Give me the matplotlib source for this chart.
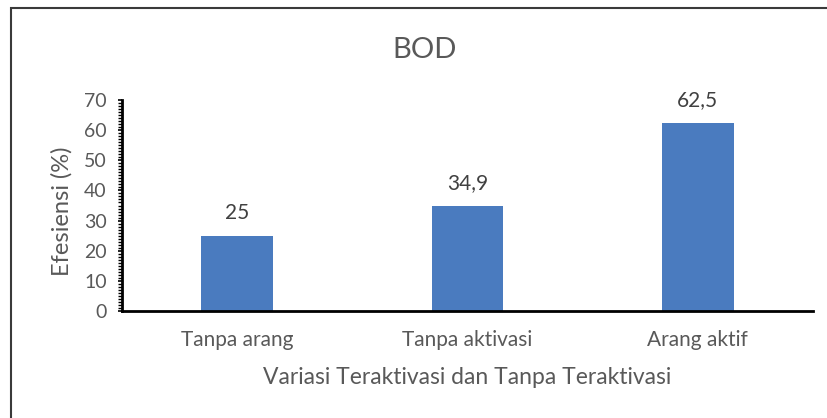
import matplotlib
matplotlib.use('Agg')

import matplotlib.pyplot as plt
from matplotlib.patches import Rectangle
from matplotlib.ticker import MultipleLocator

# data
categories = ['Tanpa arang', 'Tanpa aktivasi', 'Arang aktif']
efisiensi = [25, 34.9, 62.5]
labels = ['25', '34,9', '62,5']

plt.rcParams['font.family'] = ['Lato', 'DejaVu Sans']
grey = '#595959'

fig = plt.figure(figsize=(8.27, 4.18), dpi=100)
fig.patch.set_facecolor('white')

# outer frame of the chart (cut off on right and bottom in the scan)
fig.patches.append(Rectangle((11 / 827, -0.1), 1.2, 1 - 8 / 418 + 0.1,
                             transform=fig.transFigure, fill=False,
                             edgecolor='#3a3a3a', lw=1.5))

ax = fig.add_axes([122 / 827, 1 - 311 / 418, (813 - 122) / 827, (311 - 100) / 418])
x = range(len(categories))
bars = ax.bar(x, efisiensi, width=0.31, color='#4a7bbf', zorder=2)

for b, lab in zip(bars, labels):
    ax.annotate(lab, (b.get_x() + b.get_width() / 2, b.get_height()),
                xytext=(0, 9), textcoords='offset points',
                ha='center', va='bottom', fontsize=15, color='#404040')

ax.set_xlim(-0.5, 2.5)
ax.set_ylim(0, 70)
ax.yaxis.set_major_locator(MultipleLocator(10))
ax.yaxis.set_minor_locator(MultipleLocator(1))
ax.set_xticks(list(x))
ax.set_xticklabels(categories)

for s in ['top', 'right']:
    ax.spines[s].set_visible(False)
for s in ['left', 'bottom']:
    ax.spines[s].set_linewidth(2)
    ax.spines[s].set_color('black')

ax.tick_params(axis='y', which='major', length=3, width=1.2, labelsize=14,
               labelcolor=grey, pad=8)
ax.tick_params(axis='y', which='minor', length=3, width=1)
ax.tick_params(axis='x', length=0, labelsize=15, labelcolor=grey, pad=14)

# y label placed directly, just left of the tick labels
fig.text(62 / 827, 1 - 211 / 418, 'Efesiensi (%)', rotation=90,
         ha='center', va='center', fontsize=17, color=grey)
ax.set_xlabel('Variasi Teraktivasi dan Tanpa Teraktivasi', fontsize=16.5,
              color=grey, labelpad=12)

fig.text(425 / 827, 1 - 50 / 418, 'BOD', ha='center', va='center',
         fontsize=21, color=grey)

plt.savefig('out.png', dpi=100)
